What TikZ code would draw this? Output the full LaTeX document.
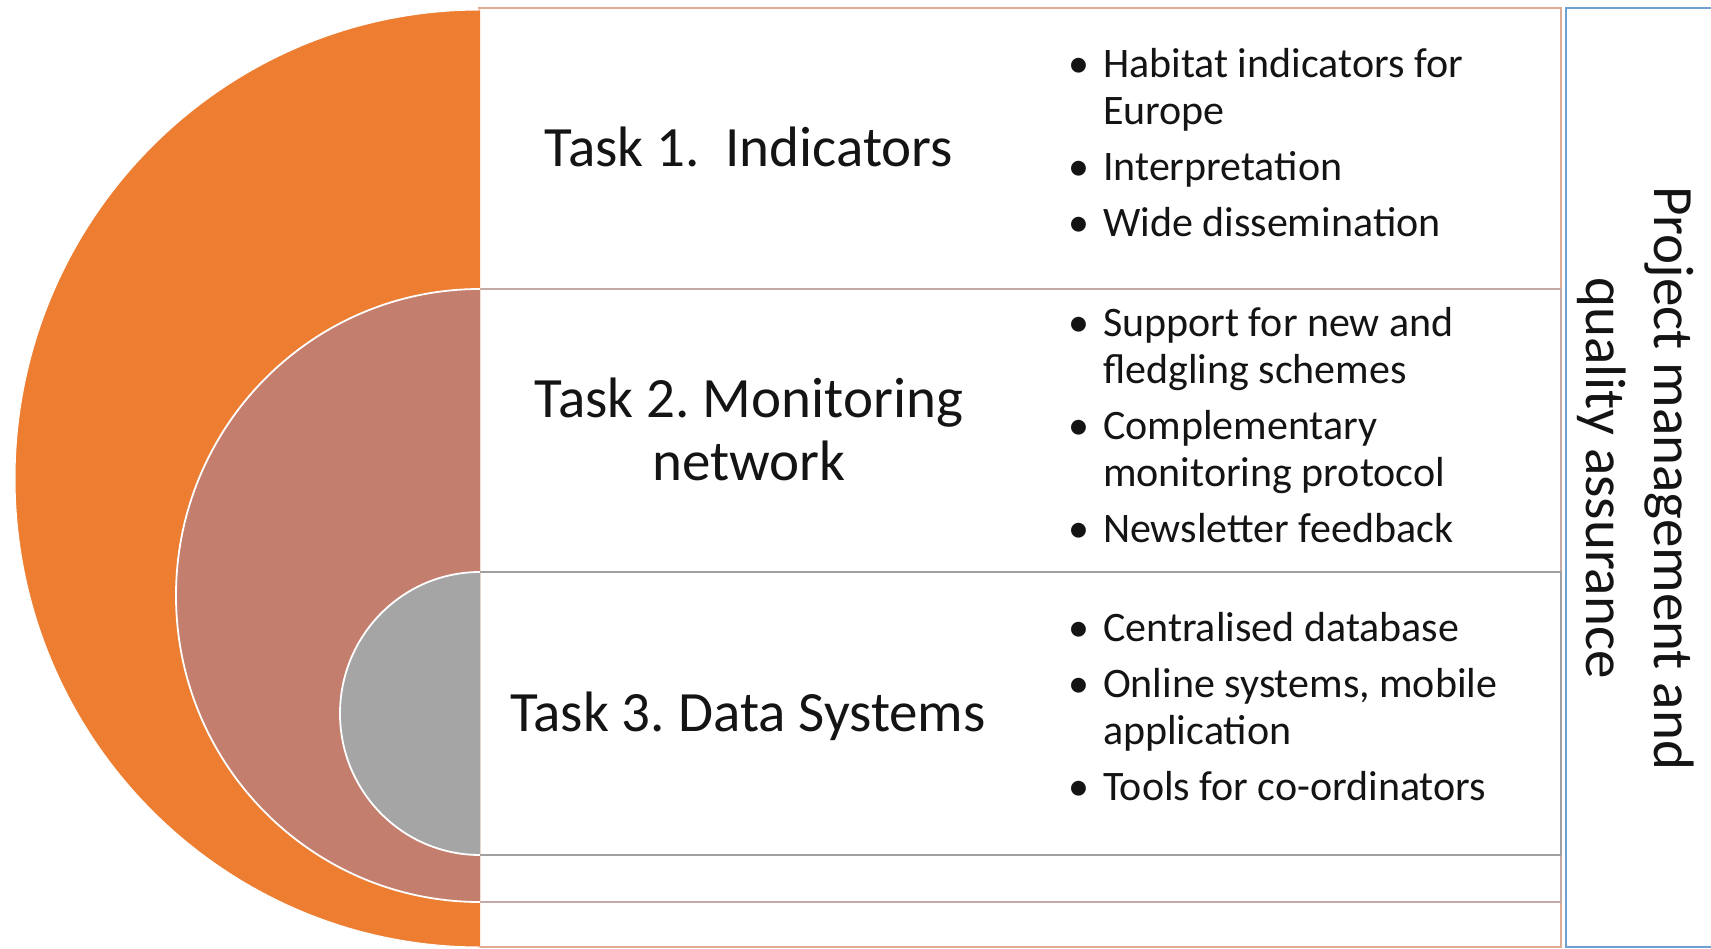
\documentclass[tikz,border=0pt]{standalone}
\usepackage{fontspec}
\setmainfont{Carlito}
\frenchspacing
\definecolor{cOrange}{RGB}{237,125,49}
\definecolor{cBrown}{RGB}{196,126,109}
\definecolor{cGray}{RGB}{165,165,165}
\definecolor{cOrangeLine}{RGB}{222,172,148}
\definecolor{cBrownLine}{RGB}{196,170,165}
\definecolor{cGrayLine}{RGB}{160,160,160}
\definecolor{cBlue}{RGB}{110,160,210}
\definecolor{cText}{RGB}{20,20,20}
\begin{document}
\begin{tikzpicture}[x=1pt,y=-1pt,
  tasklbl/.style={font=\fontsize{57}{63}\selectfont, align=center, inner sep=0pt, text=cText},
  bulletlist/.style={font=\fontsize{42}{47}\selectfont, anchor=west, inner sep=0pt, text=cText},
  rowbox/.style={fill=white, line width=2pt},
  ring/.style={draw=white, line width=1.8pt}
]
\useasboundingbox (0,0) rectangle (1711,949);
% right box
\draw[line width=2pt, draw=cBlue, fill=white] (1566,8) rectangle (1760,947);
% row rectangles
\draw[rowbox, draw=cOrangeLine] (479,8) rectangle (1561,947);
\draw[rowbox, draw=cBrownLine] (479,289) rectangle (1561,902);
\draw[rowbox, draw=cGrayLine] (479,572) rectangle (1561,855);
% semicircles
\fill[cOrange] (480,10) arc[start angle=270,end angle=90,x radius=465,y radius=468.5] -- cycle;
\draw[white, line width=1pt] (480,10) arc[start angle=270,end angle=90,x radius=465,y radius=468.5];
\fill[cBrown] (480,289) arc[start angle=270,end angle=90,x radius=304,y radius=306.5] -- cycle;
\draw[ring] (480,289) arc[start angle=270,end angle=90,x radius=304,y radius=306.5];
\fill[cGray] (480,572) arc[start angle=270,end angle=90,x radius=140,y radius=141.5] -- cycle;
\draw[ring] (480,572) arc[start angle=270,end angle=90,x radius=140,y radius=141.5];
% task labels
\node[tasklbl] (t1) at (749,147) {Task 1.~~Indicators};
\node[tasklbl] (t2) at (749,429) {Task 2. Monitoring\\network};
\node[tasklbl] (t3) at (748,716) {Task 3. Data Systems};
% bullet lists
\node[bulletlist] (b1) at (1068,148) {\begin{tabular}{@{}l@{\hspace{14pt}}l@{}}
•&Habitat indicators for\\
 &Europe\\[9pt]
•&Interpretation\\[9pt]
•&Wide dissemination
\end{tabular}};
\node[bulletlist] (b2) at (1068,430) {\begin{tabular}{@{}l@{\hspace{14pt}}l@{}}
•&Support for new and\\
 &fledgling schemes\\[9pt]
•&Complementary\\
 &monitoring protocol\\[9pt]
•&Newsletter feedback
\end{tabular}};
\node[bulletlist] (b3) at (1068,712) {\begin{tabular}{@{}l@{\hspace{14pt}}l@{}}
•&Centralised database\\[9pt]
•&Online systems, mobile\\
 &application\\[9pt]
•&Tools for co-ordinators
\end{tabular}};
% vertical label
\node[tasklbl, font=\fontsize{57}{68}\selectfont, rotate=-90] (pm) at (1636,478) {Project management and\\quality assurance};
\end{tikzpicture}
\end{document}
